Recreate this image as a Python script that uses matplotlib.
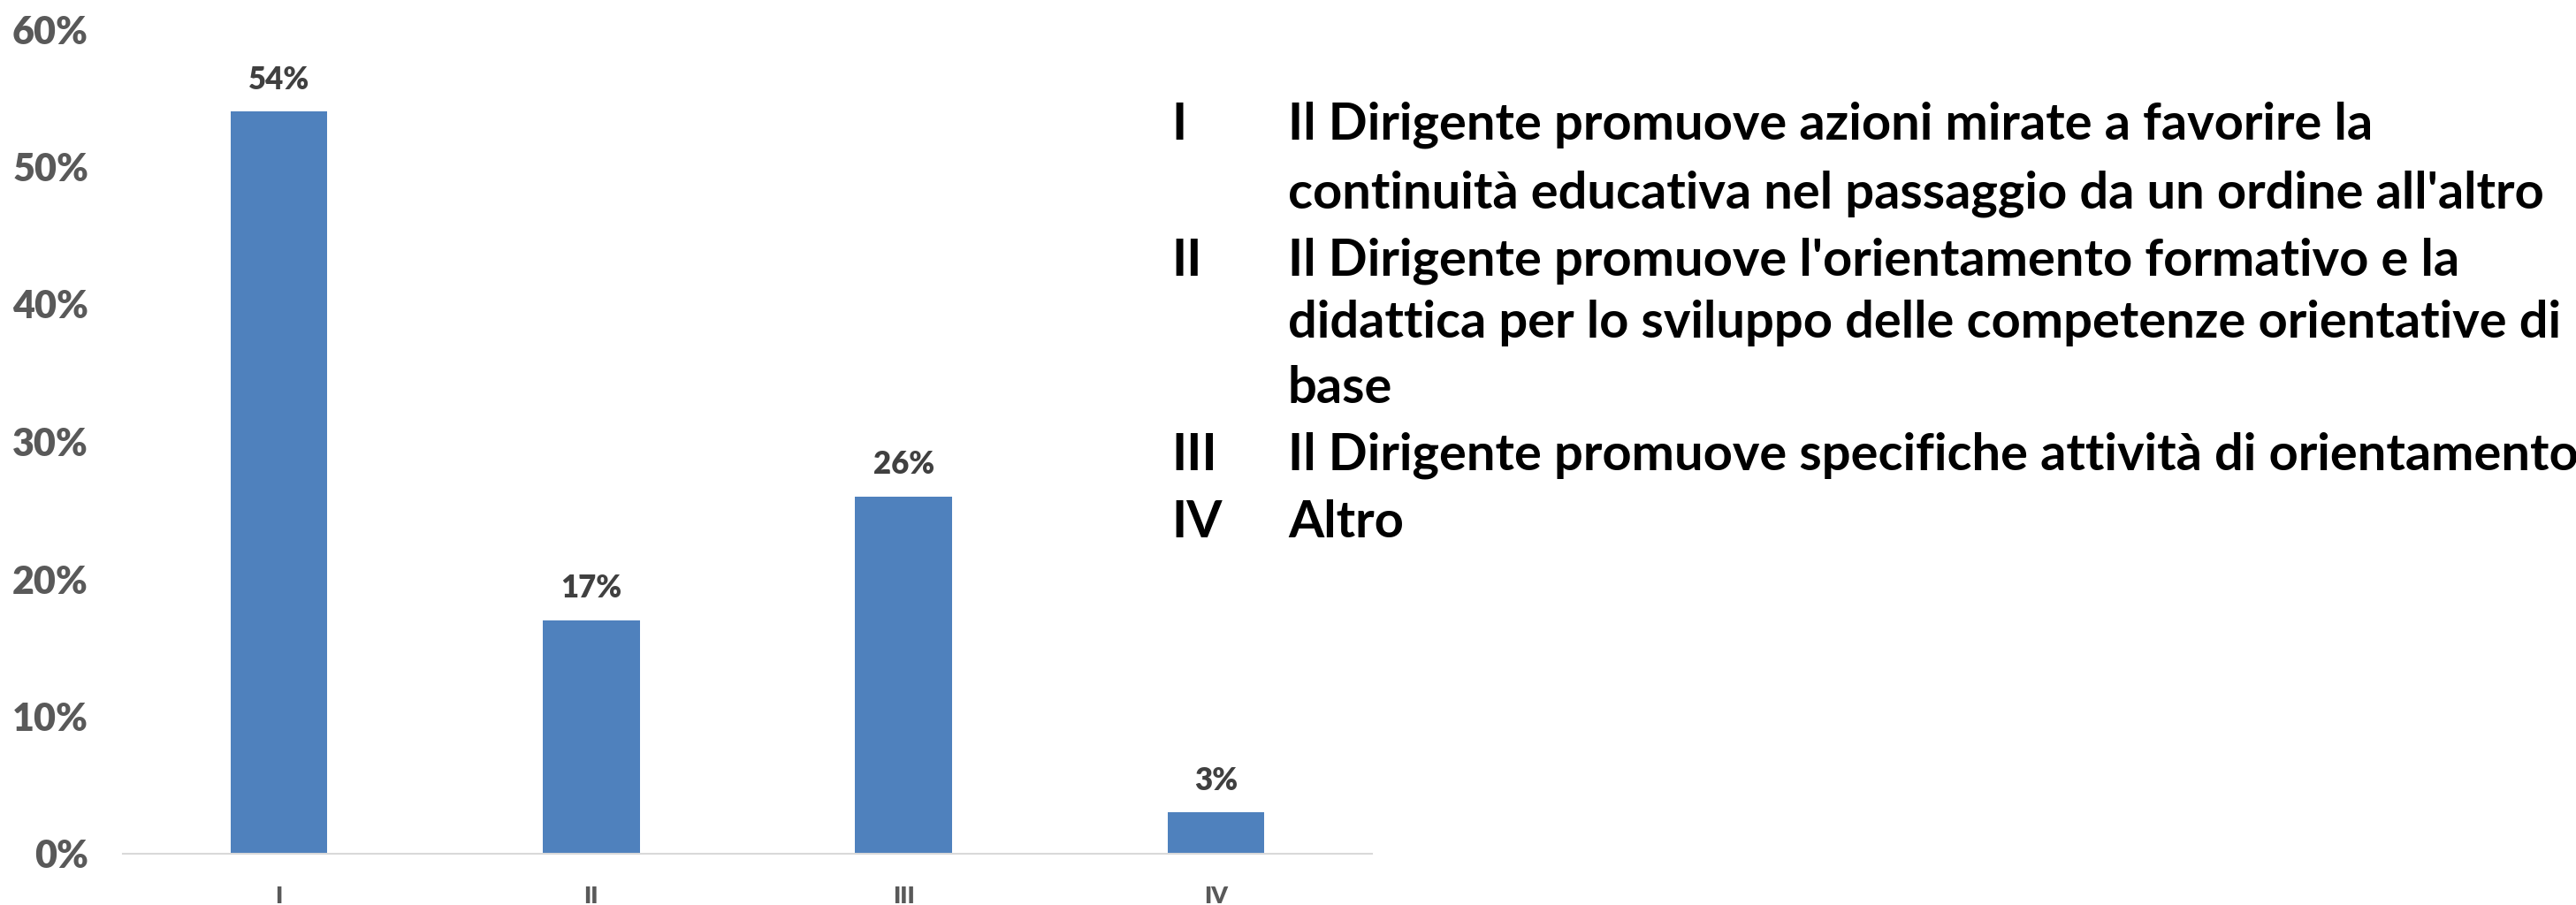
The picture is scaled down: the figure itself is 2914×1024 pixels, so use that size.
import matplotlib
matplotlib.use("Agg")
import matplotlib.pyplot as plt
from matplotlib.ticker import PercentFormatter

categories = ["I", "II", "III", "IV"]
values = [54, 17, 26, 3]
yticks = [0, 10, 20, 30, 40, 50, 60]

legend_keys = ["I", "", "II", "", "", "III", "IV"]
legend_lines = [
    "Il Dirigente promuove azioni mirate a favorire la",
    "continuità educativa nel passaggio da un ordine all'altro",
    "Il Dirigente promuove l'orientamento formativo e la",
    "didattica per lo sviluppo delle competenze orientative di",
    "base",
    "Il Dirigente promuove specifiche attività di orientamento",
    "Altro",
]

fonts = ["Lato", "DejaVu Sans"]
plt.rcParams["font.family"] = fonts

W, H = 2914, 1024
fig = plt.figure(figsize=(W / 100, H / 100), dpi=100)
ax = fig.add_axes([139 / W, 58 / H, (1552 - 139) / W, (991 - 58) / H])

x = range(len(categories))
bars = ax.bar(x, values, width=0.31, color="#4F81BD")
for xi, v in zip(x, values):
    ax.annotate(f"{v}%", (xi, v), xytext=(0, 14), textcoords="offset points",
                ha="center", va="bottom", fontsize=25, fontweight="heavy",
                color="#404040")

ax.set_xlim(-0.5, 3.5)
ax.set_ylim(0, 60)
ax.set_yticks(yticks)
ax.yaxis.set_major_formatter(PercentFormatter(decimals=0))
ax.set_xticks(list(x))
ax.set_xticklabels(categories)
for s in ["top", "right", "left"]:
    ax.spines[s].set_visible(False)
ax.spines["bottom"].set_color("#D9D9D9")
ax.spines["bottom"].set_linewidth(1.5)
ax.tick_params(axis="y", length=0, pad=28, labelsize=31, labelcolor="#595959")
ax.tick_params(axis="x", length=0, pad=26, labelsize=19, labelcolor="#595959")
for lab in ax.get_yticklabels() + ax.get_xticklabels():
    lab.set_fontweight("heavy")

# legend text block on the right
ys = [141, 219, 295, 366, 440, 515, 591]
fs = 44
fig.canvas.draw()
r = fig.canvas.get_renderer()
probe = fig.text(0, 0, legend_lines[1], fontsize=fs, fontweight="bold")
wpx = probe.get_window_extent(r).width
probe.remove()
fs = fs * 1422 / wpx
for key, line, yy in zip(legend_keys, legend_lines, ys):
    fig.text(1325 / W, 1 - yy / H, key, fontsize=fs, fontweight="bold",
             va="center", ha="left", color="black")
    fig.text(1457 / W, 1 - yy / H, line, fontsize=fs, fontweight="bold",
             va="center", ha="left", color="black")

fig.savefig("out.png", dpi=100)
